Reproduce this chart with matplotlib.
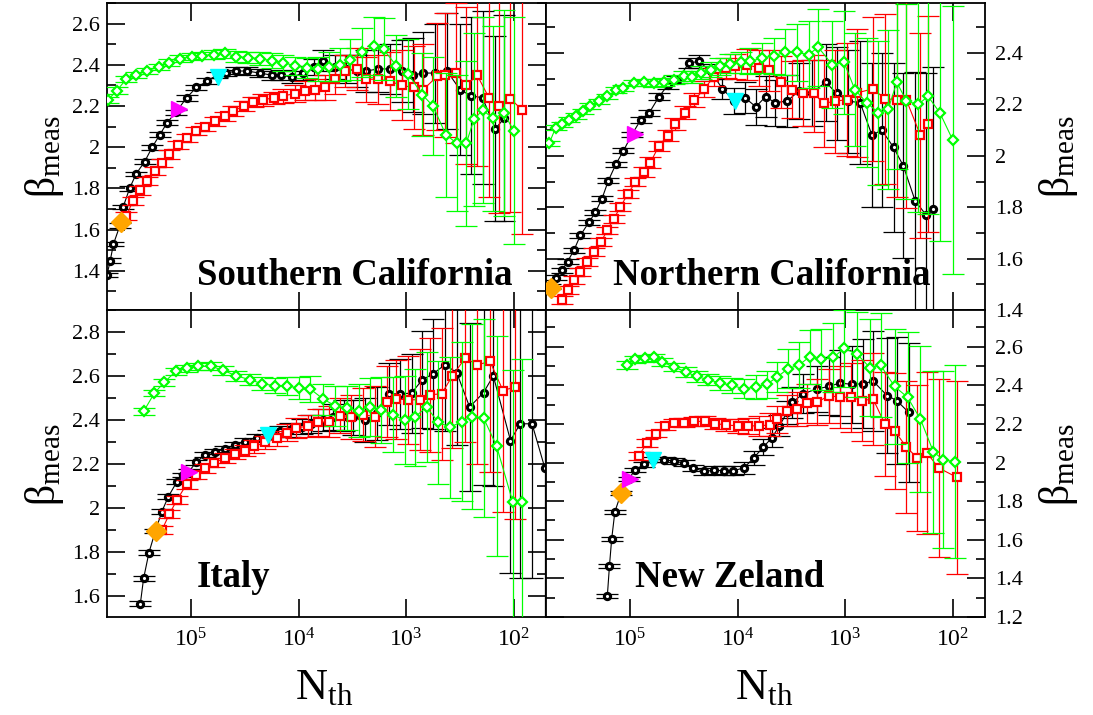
import matplotlib
matplotlib.use('Agg')
import matplotlib.pyplot as plt
import numpy as np
from matplotlib.ticker import MultipleLocator, FuncFormatter, LogLocator, NullLocator

plt.rcParams['font.family'] = 'Liberation Serif'
plt.rcParams['mathtext.fontset'] = 'custom'
plt.rcParams['mathtext.rm'] = 'Liberation Serif'
plt.rcParams['mathtext.it'] = 'Liberation Serif:italic'
plt.rcParams['mathtext.bf'] = 'Liberation Serif:bold'

# ---------------- data: log10(N_th), beta_meas, error ----------------
# Southern California
sc_blk_lg = [5.78, 5.75, 5.72, 5.66, 5.63, 5.57, 5.51, 5.43, 5.36, 5.29, 5.22, 5.14, 5.04, 4.95, 4.85, 4.76,
             4.67, 4.58, 4.48, 4.36, 4.25, 4.16, 4.06, 3.96, 3.86, 3.77, 3.66, 3.56, 3.46, 3.37, 3.26, 3.15,
             3.04, 2.94, 2.84, 2.73, 2.62, 2.50, 2.40, 2.29, 2.17, 2.09]
sc_blk_b = [1.38, 1.45, 1.53, 1.62, 1.71, 1.80, 1.87, 1.93, 2.00, 2.06, 2.12, 2.17, 2.24, 2.29, 2.32, 2.35,
            2.36, 2.37, 2.37, 2.36, 2.35, 2.35, 2.34, 2.36, 2.39, 2.42, 2.39, 2.38, 2.37, 2.37, 2.38, 2.38,
            2.37, 2.35, 2.36, 2.36, 2.37, 2.28, 2.25, 2.24, 2.09, 2.14]
sc_blk_e = [0.01, 0.01, 0.01, 0.01, 0.01, 0.012, 0.012, 0.012, 0.012, 0.012, 0.012, 0.012, 0.014, 0.014, 0.015, 0.015,
            0.016, 0.017, 0.018, 0.02, 0.022, 0.025, 0.03, 0.035, 0.04, 0.05, 0.06, 0.07, 0.08, 0.1, 0.11, 0.12,
            0.15, 0.18, 0.2, 0.24, 0.28, 0.32, 0.38, 0.42, 0.45, 0.5]
sc_red_lg = [5.60, 5.54, 5.47, 5.41, 5.33, 5.27, 5.20, 5.12, 5.04, 4.95, 4.87, 4.78, 4.68, 4.61, 4.51, 4.42,
             4.33, 4.23, 4.14, 4.03, 3.94, 3.85, 3.75, 3.66, 3.57, 3.46, 3.37, 3.26, 3.15, 3.04, 2.93, 2.84,
             2.71, 2.64, 2.54, 2.44, 2.34, 2.23, 2.14, 2.03, 1.92]
sc_red_b = [1.665, 1.74, 1.79, 1.835, 1.885, 1.925, 1.965, 2.01, 2.045, 2.08, 2.10, 2.125, 2.15, 2.175, 2.20, 2.22,
            2.23, 2.24, 2.25, 2.26, 2.275, 2.28, 2.29, 2.33, 2.37, 2.38, 2.33, 2.33, 2.32, 2.30, 2.29, 2.28,
            2.345, 2.35, 2.36, 2.30, 2.35, 2.24, 2.20, 2.235, 2.18]
sc_red_e = [0.02, 0.02, 0.02, 0.02, 0.02, 0.02, 0.02, 0.02, 0.02, 0.02, 0.02, 0.022, 0.022, 0.024, 0.025, 0.026,
            0.028, 0.03, 0.035, 0.04, 0.045, 0.05, 0.06, 0.07, 0.08, 0.1, 0.11, 0.12, 0.14, 0.17, 0.2, 0.22,
            0.26, 0.3, 0.34, 0.38, 0.44, 0.48, 0.52, 0.55, 0.6]
sc_grn_lg = [5.77, 5.69, 5.60, 5.51, 5.41, 5.30, 5.20, 5.10, 4.99, 4.90, 4.79, 4.68, 4.58, 4.47, 4.36, 4.25,
             4.14, 4.03, 3.92, 3.82, 3.72, 3.61, 3.52, 3.41, 3.30, 3.21, 3.09, 2.98, 2.85, 2.75, 2.63, 2.53,
             2.44, 2.37, 2.29, 2.19, 2.09, 2.00]
sc_grn_b = [2.23, 2.275, 2.33, 2.35, 2.37, 2.39, 2.41, 2.43, 2.44, 2.445, 2.45, 2.455, 2.44, 2.435, 2.43, 2.42,
            2.41, 2.395, 2.385, 2.38, 2.39, 2.40, 2.425, 2.46, 2.49, 2.475, 2.395, 2.355, 2.255, 2.20, 2.06, 2.02,
            2.02, 2.135, 2.18, 2.14, 2.165, 2.08]
sc_grn_e = [0.015, 0.015, 0.015, 0.015, 0.015, 0.015, 0.016, 0.016, 0.017, 0.018, 0.02, 0.022, 0.025, 0.028, 0.03, 0.035,
            0.04, 0.045, 0.05, 0.06, 0.07, 0.08, 0.1, 0.12, 0.14, 0.15, 0.15, 0.17, 0.2, 0.24, 0.3, 0.33,
            0.4, 0.42, 0.45, 0.45, 0.5, 0.55]
sc_special = [(5.654, 1.636), (5.109, 2.186), (4.752, 2.341)]

# Northern California
nc_blk_lg = [5.74, 5.69, 5.63, 5.58, 5.52, 5.46, 5.38, 5.32, 5.26, 5.20, 5.13, 5.06, 4.98, 4.90, 4.82, 4.73,
             4.65, 4.56, 4.45, 4.36, 4.25, 4.14, 4.03, 3.93, 3.83, 3.74, 3.65, 3.54, 3.43, 3.31, 3.18, 3.08,
             2.97, 2.86, 2.75, 2.66, 2.55, 2.46, 2.35, 2.25, 2.18]
nc_blk_b = [1.49, 1.526, 1.555, 1.588, 1.633, 1.691, 1.742, 1.781, 1.833, 1.904, 1.968, 2.020, 2.084, 2.140, 2.168, 2.230,
            2.274, 2.297, 2.361, 2.368, 2.329, 2.261, 2.213, 2.226, 2.191, 2.230, 2.207, 2.213, 2.252, 2.245, 2.287, 2.243,
            2.213, 2.207, 2.080, 2.101, 2.033, 1.962, 1.826, 1.771, 1.794]
nc_blk_e = [0.01, 0.01, 0.01, 0.01, 0.01, 0.01, 0.01, 0.01, 0.01, 0.01, 0.01, 0.01, 0.01, 0.012, 0.012, 0.013,
            0.014, 0.015, 0.02, 0.025, 0.03, 0.04, 0.05, 0.06, 0.07, 0.08, 0.09, 0.1, 0.11, 0.13, 0.15, 0.18,
            0.2, 0.24, 0.28, 0.3, 0.33, 0.36, 0.5, 0.55, 0.55]
nc_red_lg = [5.63, 5.58, 5.52, 5.46, 5.40, 5.33, 5.27, 5.21, 5.15, 5.09, 5.02, 4.95, 4.87, 4.81, 4.73, 4.65,
             4.58, 4.49, 4.40, 4.31, 4.22, 4.11, 4.02, 3.91, 3.80, 3.71, 3.60, 3.49, 3.39, 3.29, 3.20, 3.09,
             2.98, 2.89, 2.74, 2.63, 2.52, 2.43, 2.30, 2.23]
nc_red_b = [1.439, 1.478, 1.517, 1.549, 1.588, 1.626, 1.665, 1.710, 1.755, 1.800, 1.852, 1.897, 1.936, 1.974, 2.039, 2.078,
            2.123, 2.168, 2.217, 2.261, 2.307, 2.342, 2.348, 2.355, 2.342, 2.333, 2.287, 2.258, 2.245, 2.243, 2.204, 2.213,
            2.219, 2.245, 2.261, 2.222, 2.219, 2.217, 2.080, 2.123]
nc_red_e = [0.015, 0.015, 0.015, 0.015, 0.015, 0.015, 0.015, 0.015, 0.015, 0.015, 0.015, 0.015, 0.02, 0.02, 0.02, 0.022,
            0.024, 0.026, 0.028, 0.03, 0.035, 0.04, 0.05, 0.06, 0.07, 0.08, 0.1, 0.11, 0.13, 0.15, 0.17, 0.2,
            0.22, 0.25, 0.28, 0.33, 0.38, 0.42, 0.4, 0.42]
nc_grn_lg = [5.75, 5.69, 5.63, 5.57, 5.50, 5.44, 5.37, 5.29, 5.21, 5.13, 5.06, 4.96, 4.87, 4.78, 4.68, 4.59,
             4.50, 4.42, 4.34, 4.25, 4.16, 4.07, 3.97, 3.88, 3.77, 3.66, 3.56, 3.45, 3.34, 3.25, 3.12, 3.01,
             2.91, 2.80, 2.69, 2.60, 2.52, 2.43, 2.32, 2.23, 2.12, 2.00]
nc_grn_b = [2.049, 2.110, 2.123, 2.140, 2.155, 2.174, 2.194, 2.213, 2.232, 2.256, 2.265, 2.284, 2.287, 2.284, 2.287, 2.297,
            2.310, 2.307, 2.323, 2.336, 2.348, 2.359, 2.364, 2.368, 2.381, 2.390, 2.403, 2.403, 2.394, 2.423, 2.355, 2.364,
            2.258, 2.207, 2.168, 2.181, 2.287, 2.213, 2.200, 2.232, 2.168, 2.062]
nc_grn_e = [0.01, 0.01, 0.01, 0.01, 0.01, 0.01, 0.01, 0.01, 0.01, 0.012, 0.012, 0.013, 0.014, 0.015, 0.016, 0.018,
            0.02, 0.022, 0.025, 0.028, 0.032, 0.036, 0.04, 0.05, 0.06, 0.07, 0.09, 0.11, 0.13, 0.15, 0.17, 0.2,
            0.22, 0.25, 0.28, 0.31, 0.34, 0.38, 0.42, 0.46, 0.5, 0.52]
nc_special = [(5.736, 1.487), (4.957, 2.084), (4.026, 2.213)]

# Italy
it_blk_lg = [5.47, 5.44, 5.39, 5.33, 5.27, 5.21, 5.13, 5.07, 5.02, 4.95, 4.87, 4.78, 4.68, 4.59, 4.50, 4.39,
             4.28, 4.17, 4.08, 3.97, 3.88, 3.77, 3.68, 3.58, 3.49, 3.38, 3.27, 3.16, 3.06, 2.95, 2.85, 2.75,
             2.64, 2.53, 2.41, 2.28, 2.19, 2.03, 1.94, 1.83, 1.71]
it_blk_b = [1.566, 1.680, 1.798, 1.896, 1.984, 2.052, 2.120, 2.150, 2.166, 2.208, 2.242, 2.257, 2.267, 2.287, 2.302, 2.320,
            2.333, 2.348, 2.355, 2.370, 2.383, 2.398, 2.413, 2.419, 2.413, 2.398, 2.431, 2.519, 2.519, 2.522, 2.583, 2.610,
            2.651, 2.616, 2.459, 2.525, 2.601, 2.307, 2.383, 2.383, 2.181]
it_blk_e = [0.01, 0.01, 0.01, 0.01, 0.01, 0.01, 0.01, 0.01, 0.012, 0.012, 0.012, 0.013, 0.014, 0.015, 0.016, 0.018,
            0.02, 0.025, 0.03, 0.035, 0.04, 0.05, 0.06, 0.07, 0.08, 0.1, 0.12, 0.14, 0.16, 0.18, 0.22, 0.25,
            0.3, 0.33, 0.38, 0.42, 0.5, 0.6, 0.7, 0.7, 0.8]
it_red_lg = [5.27, 5.20, 5.13, 5.04, 4.95, 4.87, 4.79, 4.68, 4.59, 4.50, 4.41, 4.31, 4.20, 4.11, 4.02, 3.91,
             3.82, 3.72, 3.61, 3.51, 3.40, 3.29, 3.18, 3.09, 2.98, 2.87, 2.78, 2.67, 2.57, 2.45, 2.34, 2.22,
             2.10, 1.99]
it_red_b = [1.900, 1.973, 2.037, 2.108, 2.150, 2.181, 2.207, 2.226, 2.246, 2.261, 2.280, 2.298, 2.317, 2.343, 2.363, 2.374,
            2.389, 2.393, 2.419, 2.416, 2.424, 2.416, 2.484, 2.495, 2.492, 2.492, 2.515, 2.519, 2.601, 2.682, 2.651, 2.666,
            2.534, 2.550]
it_red_e = [0.02, 0.02, 0.02, 0.02, 0.02, 0.02, 0.02, 0.022, 0.024, 0.026, 0.028, 0.03, 0.035, 0.04, 0.045, 0.05,
            0.06, 0.07, 0.08, 0.1, 0.12, 0.14, 0.16, 0.18, 0.2, 0.23, 0.26, 0.3, 0.33, 0.38, 0.45, 0.5,
            0.55, 0.6]
it_grn_lg = [5.44, 5.34, 5.25, 5.14, 5.04, 4.93, 4.81, 4.70, 4.58, 4.45, 4.34, 4.22, 4.11, 4.00, 3.89, 3.77,
             3.66, 3.55, 3.44, 3.34, 3.23, 3.12, 3.01, 2.92, 2.81, 2.70, 2.59, 2.48, 2.39, 2.28, 2.16, 2.01,
             1.92]
it_grn_b = [2.439, 2.522, 2.571, 2.621, 2.636, 2.644, 2.644, 2.626, 2.601, 2.583, 2.565, 2.556, 2.556, 2.545, 2.541, 2.495,
            2.465, 2.454, 2.443, 2.459, 2.446, 2.424, 2.398, 2.413, 2.459, 2.389, 2.368, 2.393, 2.416, 2.409, 2.283, 2.029,
            2.029]
it_grn_e = [0.015, 0.015, 0.015, 0.015, 0.016, 0.017, 0.018, 0.02, 0.022, 0.025, 0.03, 0.035, 0.04, 0.05, 0.06, 0.07,
            0.09, 0.1, 0.12, 0.13, 0.15, 0.17, 0.2, 0.22, 0.25, 0.28, 0.32, 0.36, 0.42, 0.45, 0.5, 0.6,
            0.65]
it_special = [(5.326, 1.896), (5.016, 2.166), (4.281, 2.333)]

# New Zeland
nz_blk_lg = [5.21, 5.19, 5.17, 5.14, 5.08, 5.01, 4.95, 4.87, 4.79, 4.68, 4.59, 4.50, 4.41, 4.31, 4.22, 4.13,
             4.04, 3.94, 3.85, 3.76, 3.68, 3.61, 3.54, 3.49, 3.39, 3.26, 3.15, 3.05, 2.94, 2.83, 2.74, 2.61,
             2.52, 2.41]
nz_blk_b = [1.309, 1.466, 1.602, 1.745, 1.844, 1.916, 1.963, 1.99, 2.015, 2.015, 2.007, 1.998, 1.972, 1.954, 1.960, 1.958,
            1.958, 1.972, 2.024, 2.080, 2.129, 2.19, 2.26, 2.312, 2.356, 2.382, 2.394, 2.412, 2.405, 2.408, 2.422, 2.347,
            2.321, 2.260]
nz_blk_e = [0.01, 0.01, 0.01, 0.01, 0.01, 0.01, 0.01, 0.012, 0.012, 0.013, 0.014, 0.015, 0.016, 0.018, 0.02, 0.022,
            0.025, 0.03, 0.035, 0.04, 0.05, 0.055, 0.06, 0.08, 0.1, 0.12, 0.15, 0.17, 0.2, 0.23, 0.26, 0.3,
            0.33, 0.36]
nz_red_lg = [4.92, 4.84, 4.76, 4.67, 4.59, 4.50, 4.40, 4.30, 4.21, 4.11, 4.00, 3.90, 3.80, 3.70, 3.63, 3.54,
             3.45, 3.35, 3.26, 3.15, 3.05, 2.95, 2.84, 2.74, 2.63, 2.54, 2.43, 2.33, 2.24, 2.13, 1.96]
nz_red_b = [2.033, 2.103, 2.150, 2.190, 2.207, 2.207, 2.213, 2.213, 2.202, 2.195, 2.190, 2.190, 2.190, 2.195, 2.225, 2.268,
            2.277, 2.307, 2.312, 2.347, 2.338, 2.338, 2.321, 2.329, 2.199, 2.164, 2.080, 2.024, 2.050, 1.972, 1.923]
nz_red_e = [0.02, 0.02, 0.02, 0.02, 0.02, 0.022, 0.024, 0.026, 0.028, 0.03, 0.035, 0.04, 0.05, 0.06, 0.07, 0.08,
            0.09, 0.1, 0.12, 0.14, 0.16, 0.18, 0.21, 0.24, 0.27, 0.3, 0.34, 0.38, 0.42, 0.46, 0.5]
nz_grn_lg = [5.03, 4.95, 4.86, 4.78, 4.70, 4.59, 4.48, 4.38, 4.27, 4.16, 4.05, 3.94, 3.83, 3.73, 3.63, 3.53,
             3.43, 3.33, 3.22, 3.11, 3.01, 2.89, 2.77, 2.67, 2.54, 2.42, 2.30, 2.18, 2.09, 1.98]
nz_grn_b = [2.504, 2.534, 2.539, 2.544, 2.521, 2.495, 2.469, 2.446, 2.429, 2.412, 2.399, 2.382, 2.391, 2.405, 2.443, 2.487,
            2.504, 2.548, 2.534, 2.544, 2.591, 2.562, 2.492, 2.504, 2.394, 2.338, 2.225, 2.056, 2.015, 2.003]
nz_grn_e = [0.02, 0.02, 0.02, 0.02, 0.02, 0.022, 0.025, 0.028, 0.03, 0.035, 0.04, 0.05, 0.06, 0.07, 0.08, 0.1,
            0.12, 0.14, 0.16, 0.18, 0.2, 0.22, 0.25, 0.27, 0.3, 0.34, 0.38, 0.42, 0.46, 0.5]
nz_special = [(5.080, 1.844), (5.0, 1.916), (4.787, 2.012)]

panel_names = ['Southern California', 'Northern California', 'Italy', 'New Zeland']
ylims = [(1.21, 2.70), (1.40, 2.595), (1.505, 2.90), (1.20, 2.79)]

panels = [
    (sc_blk_lg, sc_blk_b, sc_blk_e, sc_red_lg, sc_red_b, sc_red_e, sc_grn_lg, sc_grn_b, sc_grn_e, sc_special),
    (nc_blk_lg, nc_blk_b, nc_blk_e, nc_red_lg, nc_red_b, nc_red_e, nc_grn_lg, nc_grn_b, nc_grn_e, nc_special),
    (it_blk_lg, it_blk_b, it_blk_e, it_red_lg, it_red_b, it_red_e, it_grn_lg, it_grn_b, it_grn_e, it_special),
    (nz_blk_lg, nz_blk_b, nz_blk_e, nz_red_lg, nz_red_b, nz_red_e, nz_grn_lg, nz_grn_b, nz_grn_e, nz_special),
]


def series(ax, lg, b, e, color, marker, ms, mew, z):
    n = 10 ** np.array(lg)
    # thin error bars and caps, then the connected markers on top
    ax.errorbar(n, b, yerr=e, fmt='none', ecolor=color, elinewidth=0.9,
                capsize=8, capthick=0.9, zorder=z)
    ax.plot(n, b, color=color, lw=0.8, marker=marker, ms=ms, mfc='white', mec=color,
            mew=mew, zorder=z + 0.5)


fig = plt.figure(figsize=(10.93, 7.15), dpi=100)
W, H = 439 / 1093, 307 / 715
pos = [(107 / 1093, 1 - 310 / 715), (546 / 1093, 1 - 310 / 715),
       (107 / 1093, 1 - 617 / 715), (546 / 1093, 1 - 617 / 715)]
label_pos = [(0.205, 0.081), (0.153, 0.081), (0.205, 0.098), (0.203, 0.098)]

for i, p in enumerate(panels):
    ax = fig.add_axes([pos[i][0], pos[i][1], W, H])
    series(ax, p[0], p[1], p[2], 'black', 'o', 4.5, 2.2, 2)
    series(ax, p[3], p[4], p[5], '#ff0000', 's', 6, 1.6, 3)
    series(ax, p[6], p[7], p[8], '#00ff00', 'D', 5.5, 1.6, 4)
    sp = p[9]
    ax.plot(10 ** sp[0][0], sp[0][1], 'D', color='#ffa500', ms=10, zorder=6)
    ax.plot(10 ** sp[1][0], sp[1][1], '>', color='#ff00ff', ms=12, zorder=6)
    ax.plot(10 ** sp[2][0], sp[2][1], 'v', color='#00ffff', ms=12, zorder=6)

    ax.set_xscale('log')
    ax.set_xlim(10 ** 5.78, 10 ** 1.70)
    ax.set_ylim(*ylims[i])
    ax.xaxis.set_major_locator(LogLocator(base=10, numticks=10))
    ax.xaxis.set_minor_locator(NullLocator())
    ax.yaxis.set_major_locator(MultipleLocator(0.2))
    ax.yaxis.set_minor_locator(MultipleLocator(0.1))
    ax.yaxis.set_major_formatter(FuncFormatter(lambda v, q: '%g' % round(v, 2)))
    ax.tick_params(which='both', direction='in', top=True, right=True, width=1.2, labelsize=16)
    ax.tick_params(which='major', length=13)
    ax.tick_params(which='minor', length=6.5)
    ax.tick_params(axis='x', labelsize=17, pad=8)
    if i < 2:
        ax.tick_params(labelbottom=False)
    if i % 2 == 1:
        ax.tick_params(axis='y', labelleft=False, labelright=True, pad=7)
    else:
        ax.tick_params(axis='y', pad=5)
    for s in ax.spines.values():
        s.set_linewidth(1.3)
    ax.text(label_pos[i][0], label_pos[i][1], panel_names[i], transform=ax.transAxes,
            fontsize=26.5, fontweight='bold', ha='left', va='baseline', zorder=10)

blabel = r'β$_{\mathrm{meas}}$'
fig.text(0.041, 1 - 157 / 715, blabel, rotation=90, fontsize=30, ha='center', va='center')
fig.text(0.041, 1 - 465 / 715, blabel, rotation=90, fontsize=30, ha='center', va='center')
fig.text(0.968, 1 - 157 / 715, blabel, rotation=90, fontsize=30, ha='center', va='center')
fig.text(0.968, 1 - 465 / 715, blabel, rotation=90, fontsize=30, ha='center', va='center')
nlabel = r'$\mathrm{N}_{\mathrm{th}}$'
fig.text(324 / 1093, 1 - 688 / 715, nlabel, fontsize=32, ha='center', va='center')
fig.text(764 / 1093, 1 - 688 / 715, nlabel, fontsize=32, ha='center', va='center')

fig.savefig('out.png', dpi=100)
